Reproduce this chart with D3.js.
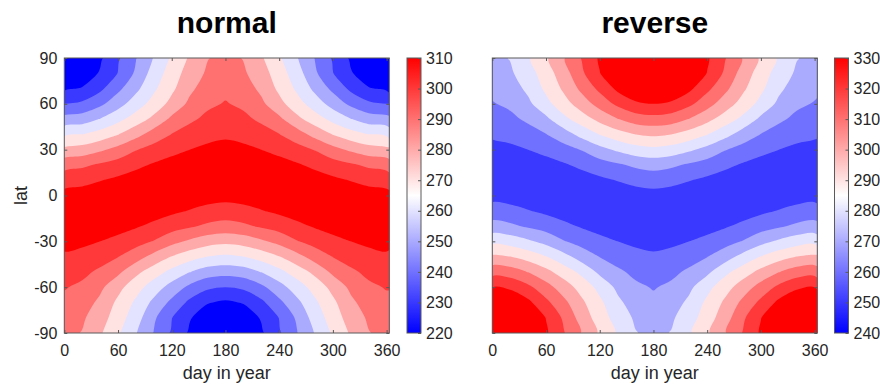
<!DOCTYPE html>
<html>
<head>
<meta charset="utf-8">
<script src="https://cdn.jsdelivr.net/npm/d3@7"></script>
<style>
  body { margin: 0; background: #fff; }
  text { font-family: "Liberation Sans", Arial, sans-serif; fill: #262626; }
</style>
</head>
<body>
<svg id="chart" width="880" height="385"></svg>
<script>
// grid: columns = day in year, rows = latitude (north to south)
var days = [0, 20, 40, 60, 80, 100, 120, 140, 160, 180, 200, 220, 240, 260, 280, 300, 320, 340, 360];
var lats = [90, 80, 70, 60, 50, 40, 30, 20, 10, 0, -10, -20, -30, -40, -50, -60, -70, -80, -90];

var dayTicks = [0, 60, 120, 180, 240, 300, 360];
var latTicks = [-90, -60, -30, 0, 30, 60, 90];

var normalTicks = [220, 230, 240, 250, 260, 270, 280, 290, 300, 310];
var normalLevels = [225, 235, 245, 255, 265, 275, 285, 295, 305];
var reverseTicks = [240, 250, 260, 270, 280, 290, 300, 310, 320, 330];
var reverseLevels = [245, 255, 265, 275, 285, 295, 305, 315, 325];

var normalTemp = [
  [215.2, 217.2, 223.3, 233.6, 244.5, 255.6, 266.5, 276.3, 284.6, 287.4, 284.6, 276.3, 266.5, 255.6, 244.5, 233.6, 223.3, 217.2, 215.2],
  [218.0, 219.3, 225.9, 235.3, 246.7, 259.4, 269.7, 279.6, 286.4, 290.1, 286.4, 279.6, 269.7, 259.4, 246.7, 235.3, 225.9, 219.3, 218.0],
  [223.4, 225.7, 232.8, 242.6, 252.5, 263.2, 272.9, 282.8, 289.8, 292.8, 289.8, 282.8, 272.9, 263.2, 252.5, 242.6, 232.8, 225.7, 223.4],
  [235.1, 237.0, 242.7, 251.1, 260.1, 268.9, 278.1, 287.1, 293.2, 295.6, 293.2, 287.1, 278.1, 268.9, 260.1, 251.1, 242.7, 237.0, 235.1],
  [248.6, 250.1, 255.4, 262.1, 269.7, 277.6, 287.1, 293.2, 297.2, 299.5, 297.2, 293.2, 287.1, 277.6, 269.7, 262.1, 255.4, 250.1, 248.6],
  [263.3, 265.0, 269.2, 274.7, 281.7, 289.6, 295.3, 299.1, 301.9, 303.3, 301.9, 299.1, 295.3, 289.6, 281.7, 274.7, 269.2, 265.0, 263.3],
  [277.6, 279.3, 283.4, 288.3, 294.5, 298.7, 302.2, 305.0, 307.1, 308.3, 307.1, 305.0, 302.2, 298.7, 294.5, 288.3, 283.4, 279.3, 277.6],
  [291.4, 293.2, 296.5, 299.3, 302.9, 306.0, 308.6, 310.3, 311.2, 311.6, 311.2, 310.3, 308.6, 306.0, 302.9, 299.3, 296.5, 293.2, 291.4],
  [301.0, 302.3, 304.6, 307.0, 309.3, 310.8, 311.8, 312.0, 311.8, 311.6, 311.8, 312.0, 311.8, 310.8, 309.3, 307.0, 304.6, 302.3, 301.0],
  [308.2, 308.9, 310.1, 311.2, 311.9, 311.9, 311.2, 310.1, 308.9, 308.2, 308.9, 310.1, 311.2, 311.9, 311.9, 311.2, 310.1, 308.9, 308.2],
  [311.6, 311.8, 312.0, 311.8, 310.8, 309.3, 307.0, 304.6, 302.3, 301.0, 302.3, 304.6, 307.0, 309.3, 310.8, 311.8, 312.0, 311.8, 311.6],
  [311.6, 311.2, 310.3, 308.6, 306.0, 302.9, 299.3, 296.5, 293.2, 291.4, 293.2, 296.5, 299.3, 302.9, 306.0, 308.6, 310.3, 311.2, 311.6],
  [308.3, 307.1, 305.0, 302.2, 298.7, 294.5, 288.3, 283.4, 279.3, 277.6, 279.3, 283.4, 288.3, 294.5, 298.7, 302.2, 305.0, 307.1, 308.3],
  [303.3, 301.9, 299.1, 295.3, 289.6, 281.7, 274.7, 269.2, 265.0, 263.3, 265.0, 269.2, 274.7, 281.7, 289.6, 295.3, 299.1, 301.9, 303.3],
  [299.5, 297.2, 293.2, 287.1, 277.6, 269.7, 262.1, 255.4, 250.1, 248.6, 250.1, 255.4, 262.1, 269.7, 277.6, 287.1, 293.2, 297.2, 299.5],
  [295.6, 293.2, 287.1, 278.1, 268.9, 260.1, 251.1, 242.7, 237.0, 235.1, 237.0, 242.7, 251.1, 260.1, 268.9, 278.1, 287.1, 293.2, 295.6],
  [292.8, 289.8, 282.8, 272.9, 263.2, 252.5, 242.6, 232.8, 225.7, 223.4, 225.7, 232.8, 242.6, 252.5, 263.2, 272.9, 282.8, 289.8, 292.8],
  [290.1, 286.4, 279.6, 269.7, 259.4, 246.7, 235.3, 225.9, 219.3, 218.0, 219.3, 225.9, 235.3, 246.7, 259.4, 269.7, 279.6, 286.4, 290.1],
  [287.4, 284.6, 276.3, 266.5, 255.6, 244.5, 233.6, 223.3, 217.2, 215.2, 217.2, 223.3, 233.6, 244.5, 255.6, 266.5, 276.3, 284.6, 287.4]
];

var reverseTemp = [
  [272.6, 275.4, 283.7, 293.5, 304.4, 315.5, 326.4, 336.7, 342.8, 344.8, 342.8, 336.7, 326.4, 315.5, 304.4, 293.5, 283.7, 275.4, 272.6],
  [269.9, 273.6, 280.4, 290.3, 300.6, 313.3, 324.7, 334.1, 340.7, 342.0, 340.7, 334.1, 324.7, 313.3, 300.6, 290.3, 280.4, 273.6, 269.9],
  [267.2, 270.2, 277.2, 287.1, 296.8, 307.5, 317.4, 327.2, 334.3, 336.6, 334.3, 327.2, 317.4, 307.5, 296.8, 287.1, 277.2, 270.2, 267.2],
  [264.4, 266.8, 272.9, 281.9, 291.1, 299.9, 308.9, 317.3, 323.0, 324.9, 323.0, 317.3, 308.9, 299.9, 291.1, 281.9, 272.9, 266.8, 264.4],
  [260.5, 262.8, 266.8, 272.9, 282.4, 290.3, 297.9, 304.6, 309.9, 311.4, 309.9, 304.6, 297.9, 290.3, 282.4, 272.9, 266.8, 262.8, 260.5],
  [256.7, 258.1, 260.9, 264.7, 270.4, 278.3, 285.3, 290.8, 295.0, 296.7, 295.0, 290.8, 285.3, 278.3, 270.4, 264.7, 260.9, 258.1, 256.7],
  [251.7, 252.9, 255.0, 257.8, 261.3, 265.5, 271.7, 276.6, 280.7, 282.4, 280.7, 276.6, 271.7, 265.5, 261.3, 257.8, 255.0, 252.9, 251.7],
  [248.4, 248.8, 249.7, 251.4, 254.0, 257.1, 260.7, 263.5, 266.8, 268.6, 266.8, 263.5, 260.7, 257.1, 254.0, 251.4, 249.7, 248.8, 248.4],
  [248.4, 248.2, 248.0, 248.2, 249.2, 250.7, 253.0, 255.4, 257.7, 259.0, 257.7, 255.4, 253.0, 250.7, 249.2, 248.2, 248.0, 248.2, 248.4],
  [251.8, 251.1, 249.9, 248.8, 248.1, 248.1, 248.8, 249.9, 251.1, 251.8, 251.1, 249.9, 248.8, 248.1, 248.1, 248.8, 249.9, 251.1, 251.8],
  [259.0, 257.7, 255.4, 253.0, 250.7, 249.2, 248.2, 248.0, 248.2, 248.4, 248.2, 248.0, 248.2, 249.2, 250.7, 253.0, 255.4, 257.7, 259.0],
  [268.6, 266.8, 263.5, 260.7, 257.1, 254.0, 251.4, 249.7, 248.8, 248.4, 248.8, 249.7, 251.4, 254.0, 257.1, 260.7, 263.5, 266.8, 268.6],
  [282.4, 280.7, 276.6, 271.7, 265.5, 261.3, 257.8, 255.0, 252.9, 251.7, 252.9, 255.0, 257.8, 261.3, 265.5, 271.7, 276.6, 280.7, 282.4],
  [296.7, 295.0, 290.8, 285.3, 278.3, 270.4, 264.7, 260.9, 258.1, 256.7, 258.1, 260.9, 264.7, 270.4, 278.3, 285.3, 290.8, 295.0, 296.7],
  [311.4, 309.9, 304.6, 297.9, 290.3, 282.4, 272.9, 266.8, 262.8, 260.5, 262.8, 266.8, 272.9, 282.4, 290.3, 297.9, 304.6, 309.9, 311.4],
  [324.9, 323.0, 317.3, 308.9, 299.9, 291.1, 281.9, 272.9, 266.8, 264.4, 266.8, 272.9, 281.9, 291.1, 299.9, 308.9, 317.3, 323.0, 324.9],
  [336.6, 334.3, 327.2, 317.4, 307.5, 296.8, 287.1, 277.2, 270.2, 267.2, 270.2, 277.2, 287.1, 296.8, 307.5, 317.4, 327.2, 334.3, 336.6],
  [342.0, 340.7, 334.1, 324.7, 313.3, 300.6, 290.3, 280.4, 273.6, 269.9, 273.6, 280.4, 290.3, 300.6, 313.3, 324.7, 334.1, 340.7, 342.0],
  [344.8, 342.8, 336.7, 326.4, 315.5, 304.4, 293.5, 283.7, 275.4, 272.6, 275.4, 283.7, 293.5, 304.4, 315.5, 326.4, 336.7, 342.8, 344.8]
];

var svg = d3.select("#chart");
var defs = svg.append("defs");

// blue - white - red colormap for the colorbars
var grad = defs.append("linearGradient")
    .attr("id", "bwr")
    .attr("x1", 0).attr("y1", 1).attr("x2", 0).attr("y2", 0);
grad.append("stop").attr("offset", "0%").attr("stop-color", "#0000ff");
grad.append("stop").attr("offset", "50%").attr("stop-color", "#ffffff");
grad.append("stop").attr("offset", "100%").attr("stop-color", "#ff0000");

var lineColor = "#5a5a5a";
var ringLine = d3.line().curve(d3.curveCatmullRomClosed.alpha(0.5));

function drawPanel(p) {
    var width = 325, top = 58, bottom = 333;

    var x = d3.scaleLinear().domain([0, 363]).range([p.left, p.left + width]);
    var y = d3.scaleLinear().domain([-90, 90]).range([bottom, top]);

    // grid index -> day / lat (d3.contours puts sample i at i + 0.5)
    var col = d3.scaleLinear().domain([0.5, days.length - 0.5]).range([days[0], days[days.length - 1]]);
    var row = d3.scaleLinear().domain([0.5, lats.length - 0.5]).range([lats[0], lats[lats.length - 1]]);

    var lo = p.ticks[0], hi = p.ticks[p.ticks.length - 1];
    var color = d3.scaleLinear()
        .domain([lo, (lo + hi) / 2, hi])
        .range(["#0000ff", "#ffffff", "#ff0000"]);

    var values = [];
    p.grid.forEach(function(r) { values = values.concat(r); });

    var contours = d3.contours()
        .size([days.length, lats.length])
        .thresholds(p.levels)(values);

    // contour rings drawn as smooth closed curves
    function smoothPath(mp) {
        var s = "";
        mp.coordinates.forEach(function(poly) {
            poly.forEach(function(ring) {
                var pts = ring.slice(0, -1).map(function(c) {
                    return [x(col(c[0])), y(row(c[1]))];
                });
                if (pts.length > 2) s += ringLine(pts);
            });
        });
        return s;
    }

    defs.append("clipPath").attr("id", "clip-" + p.id)
        .append("rect")
        .attr("x", p.left).attr("y", top)
        .attr("width", width).attr("height", bottom - top);

    var g = svg.append("g").attr("clip-path", "url(#clip-" + p.id + ")");

    g.append("rect")
        .attr("x", p.left).attr("y", top)
        .attr("width", width).attr("height", bottom - top)
        .attr("fill", color(p.ticks[0]));

    g.selectAll("path")
        .data(contours)
        .enter()
        .append("path")
        .attr("d", smoothPath)
        .attr("fill-rule", "evenodd")
        .attr("fill", function(d, i) { return color(p.ticks[i + 1]); });

    // axes, ticks pointing inward on all four sides
    var xb = svg.append("g").attr("transform", "translate(0," + bottom + ")")
        .call(d3.axisBottom(x).tickValues(dayTicks).tickSizeInner(-3).tickSizeOuter(0).tickPadding(12));
    var xt = svg.append("g").attr("transform", "translate(0," + top + ")")
        .call(d3.axisTop(x).tickValues(dayTicks).tickSizeInner(-3).tickSizeOuter(0).tickFormat(""));
    var yl = svg.append("g").attr("transform", "translate(" + p.left + ",0)")
        .call(d3.axisLeft(y).tickValues(latTicks).tickSizeInner(-3).tickSizeOuter(0).tickPadding(7)
            .tickFormat(p.latLabels ? function(d) { return String(d); } : ""));
    var yr = svg.append("g").attr("transform", "translate(" + (p.left + width) + ",0)")
        .call(d3.axisRight(y).tickValues(latTicks).tickSizeInner(-3).tickSizeOuter(0).tickFormat(""));

    [xb, xt, yl, yr].forEach(function(a) {
        a.select(".domain").remove();
        a.selectAll("line").attr("stroke", lineColor);
        a.selectAll("text").attr("font-size", 16).attr("fill", "#262626")
            .attr("font-family", "Liberation Sans, Arial, sans-serif");
    });

    svg.append("rect")
        .attr("x", p.left).attr("y", top)
        .attr("width", width).attr("height", bottom - top)
        .attr("fill", "none").attr("stroke", lineColor).attr("stroke-width", 1);

    svg.append("text")
        .attr("x", p.left + width / 2).attr("y", 379)
        .attr("text-anchor", "middle").attr("font-size", 18)
        .text("day in year");

    if (p.latLabels) {
        svg.append("text")
            .attr("transform", "translate(27," + (top + bottom) / 2 + ") rotate(-90)")
            .attr("text-anchor", "middle").attr("font-size", 18)
            .text("lat");
    }

    svg.append("text")
        .attr("x", p.left + width / 2).attr("y", 33)
        .attr("text-anchor", "middle").attr("font-size", 30).attr("font-weight", "bold")
        .style("fill", "#000")
        .text(p.title);

    // colorbar
    var cb = d3.scaleLinear().domain([lo, hi]).range([bottom, top]);
    svg.append("rect")
        .attr("x", p.cbLeft).attr("y", top)
        .attr("width", 14).attr("height", bottom - top)
        .attr("fill", "url(#bwr)")
        .attr("stroke", lineColor).attr("stroke-width", 1);

    var ca = svg.append("g").attr("transform", "translate(" + (p.cbLeft + 14) + ",0)")
        .call(d3.axisRight(cb).tickValues(p.ticks).tickSizeInner(-3).tickSizeOuter(0).tickPadding(5));
    ca.select(".domain").remove();
    ca.selectAll("line").attr("stroke", lineColor);
    ca.selectAll("text").attr("font-size", 16).attr("fill", "#262626")
        .attr("font-family", "Liberation Sans, Arial, sans-serif");
}

drawPanel({id: "normal", title: "normal", left: 64.3, cbLeft: 407, grid: normalTemp,
    levels: normalLevels, ticks: normalTicks, latLabels: true});
drawPanel({id: "reverse", title: "reverse", left: 492.3, cbLeft: 834.5, grid: reverseTemp,
    levels: reverseLevels, ticks: reverseTicks, latLabels: false});
</script>
</body>
</html>
